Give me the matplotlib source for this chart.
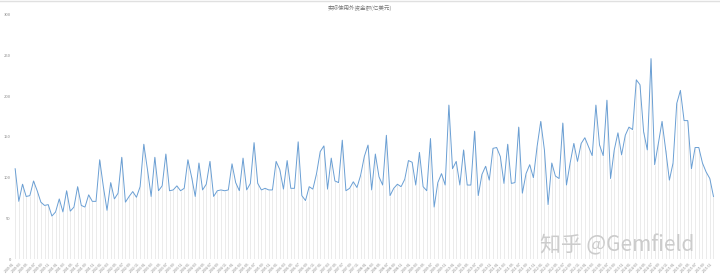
import matplotlib.pyplot as plt
import pandas as pd

plt.rcParams['font.family'] = ['Noto Sans CJK SC', 'DejaVu Sans']

# 实际使用外资金额 (亿美元), monthly
values = [
    111, 71, 92, 77, 78, 96, 84, 70, 66, 67,
    53, 58, 74, 58, 84, 59, 64, 89, 66, 64,
    79, 71, 71, 122, 89, 60, 94, 74, 81, 125,
    70, 77, 83, 76, 89, 141, 110, 77, 125, 84,
    90, 129, 84, 85, 90, 84, 87, 122, 101, 77,
    118, 85, 92, 120, 77, 84, 85, 84, 85, 117,
    94, 84, 124, 85, 93, 143, 93, 85, 87, 85,
    85, 120, 110, 86, 121, 87, 87, 144, 78, 72,
    89, 86, 105, 132, 139, 86, 124, 96, 94, 146,
    84, 87, 95, 88, 103, 126, 140, 85, 129, 101,
    91, 152, 78, 87, 92, 89, 98, 121, 119, 91,
    131, 89, 84, 148, 64, 94, 105, 91, 189, 111,
    120, 91, 134, 91, 91, 157, 78, 104, 114, 97,
    136, 137, 126, 93, 141, 93, 94, 162, 81, 105,
    116, 100, 138, 169, 134, 67, 118, 102, 99, 167,
    91, 118, 142, 120, 142, 149, 138, 127, 189, 140,
    127, 195, 99, 134, 155, 128, 152, 162, 159, 220,
    214, 156, 134, 246, 116, 142, 169, 134, 97, 118,
    191, 207, 170, 170, 111, 137, 137, 118, 107, 99,
    77,
]
months = pd.period_range('2000-01', periods=len(values), freq='M').strftime('%Y-%m').tolist()
y_ticks = [0, 50, 100, 150, 200, 250, 300]

fig = plt.figure(figsize=(7.2, 2.8), dpi=100)
ax = fig.add_axes([0.019, 0.074, 0.974, 0.874])

x = list(range(len(values)))
ax.vlines(x, 0, values, color='#e8e8e8', linewidth=0.6, zorder=1)
ax.plot(x, values, color='#6a9fd4', linewidth=0.7, zorder=2)

ax.set_xlim(-0.4, len(values) - 0.6)
ax.set_ylim(0, 300)
ax.set_yticks(y_ticks)
ax.set_yticklabels([str(v) for v in y_ticks], fontsize=3, color='#888888')
ax.set_xticks(x[::2])
ax.set_xticklabels(months[::2], fontsize=2.5, rotation=45, ha='right', color='#888888')
ax.tick_params(length=0, pad=2)
for s in ax.spines.values():
    s.set_visible(False)

# thin frame line along the top of the figure
fig.add_artist(plt.Line2D([0, 1], [0.995, 0.995], color='#e0e0e0', linewidth=1.0))

fig.text(0.5, 0.982, '实际使用外资金额(亿美元)', ha='center', va='top', fontsize=4, color='#777777')
fig.text(0.965, 0.085, '知乎 @Gemfield', ha='right', va='bottom', fontsize=15,
         color='#cccccc')

fig.savefig('out.png', dpi=100)
